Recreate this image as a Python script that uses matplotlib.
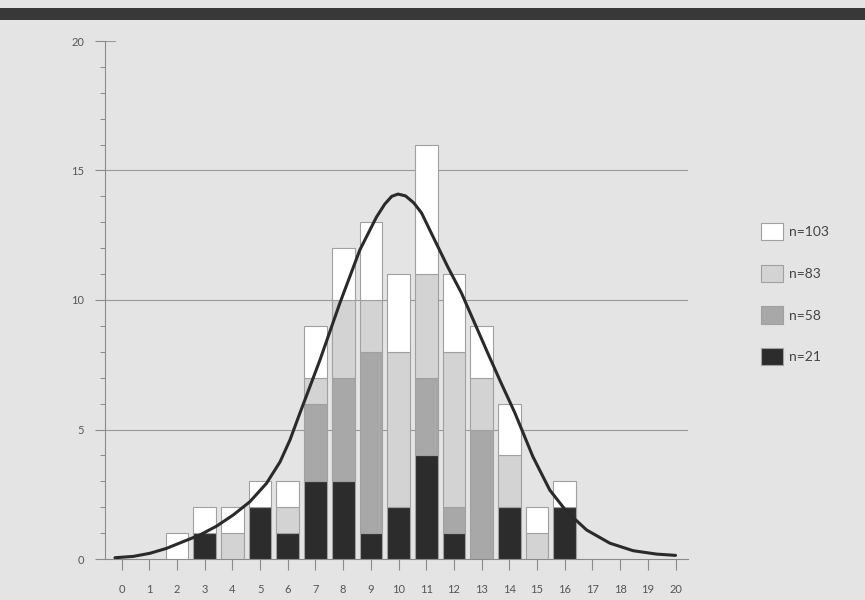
import matplotlib
matplotlib.use("Agg")
import matplotlib.pyplot as plt
from matplotlib.patches import Patch, Rectangle
import numpy as np

# -------------------------------------------------
# DATA
# -------------------------------------------------

classes = list(range(0, 21))

# segment heights of each stacked layer, bottom to top
seg_black = [0, 0, 0, 1, 0, 2, 1, 3, 3, 1, 2, 4, 1, 0, 2, 0, 2, 0, 0, 0, 0]
seg_dark = [0, 0, 0, 0, 0, 0, 0, 3, 4, 7, 0, 3, 1, 5, 0, 0, 0, 0, 0, 0, 0]
seg_light = [0, 0, 0, 0, 1, 0, 1, 1, 3, 2, 6, 4, 6, 2, 2, 1, 0, 0, 0, 0, 0]
seg_white = [0, 0, 1, 1, 1, 1, 1, 2, 2, 3, 3, 5, 3, 2, 2, 1, 1, 0, 0, 0, 0]

legend_labels = ["n=103", "n=83", "n=58", "n=21"]

# fitted curve
curve_x = [-0.24, 0.42, 1.02, 1.62, 2.22, 2.83, 3.43, 4.03, 4.63, 5.23, 5.72,
           6.08, 6.44, 7.16, 7.88, 8.60, 9.20, 9.50, 9.75, 9.98, 10.25, 10.55,
           10.83, 11.31, 11.78, 12.27, 12.75, 13.22, 13.70, 14.20, 14.85, 15.46,
           16.07, 16.79, 17.63, 18.47, 19.31, 20.0]
curve_y = [0.05, 0.10, 0.22, 0.41, 0.67, 0.93, 1.27, 1.70, 2.21, 2.92, 3.75,
           4.60, 5.64, 7.68, 9.88, 11.93, 13.20, 13.70, 14.00, 14.09, 14.02, 13.75,
           13.36, 12.30, 11.27, 10.27, 9.10, 7.95, 6.80, 5.64, 3.95, 2.66,
           1.83, 1.12, 0.61, 0.32, 0.19, 0.14]

# -------------------------------------------------
# STYLE
# -------------------------------------------------

bg = "#e4e4e4"
col_white = "#ffffff"
col_light = "#d3d3d3"
col_dark = "#a8a8a8"
col_black = "#2c2c2c"
edge = "#a0a0a0"

plt.rcParams["font.family"] = ["Lato", "DejaVu Sans"]

fig = plt.figure(figsize=(8.65, 6), dpi=100, facecolor=bg)
ax = fig.add_axes([105 / 865, 41 / 600, (688 - 105) / 865, (559 - 41) / 600])
ax.set_facecolor(bg)

# dark band at the top
fig.patches.append(Rectangle((0, 1 - 20 / 600), 1, 12 / 600, transform=fig.transFigure,
                             facecolor="#383838", edgecolor="none", zorder=0))

# -------------------------------------------------
# STACKED BARS
# -------------------------------------------------

x = np.array(classes)
b0 = np.zeros(len(x))
w = 0.82
layers = [(seg_black, col_black), (seg_dark, col_dark),
          (seg_light, col_light), (seg_white, col_white)]
for seg, c in layers:
    seg = np.array(seg, dtype=float)
    mask = seg > 0
    ax.bar(x[mask], seg[mask], bottom=b0[mask], width=w, color=c,
           edgecolor=edge, linewidth=0.8, zorder=3)
    b0 = b0 + seg

# curve
ax.plot(curve_x, curve_y, color="#2a2a2a", linewidth=2.2, zorder=4,
        solid_capstyle="round", solid_joinstyle="round")

# -------------------------------------------------
# AXES
# -------------------------------------------------

ax.set_xlim(-0.6, 20.45)
ax.set_ylim(0, 20)

for y in [5, 10, 15]:
    ax.axhline(y, color="#9a9a9a", linewidth=0.8, zorder=1)
ax.axhline(20, xmin=0, xmax=0.018, color="#9a9a9a", linewidth=0.8)

for s in ["top", "right"]:
    ax.spines[s].set_visible(False)
for s in ["left", "bottom"]:
    ax.spines[s].set_color("#8a8a8a")
    ax.spines[s].set_linewidth(0.8)

ax.set_xticks(classes)
ax.set_yticks([0, 5, 10, 15, 20])
ax.set_yticks(range(0, 21), minor=True)
ax.tick_params(axis="x", length=8, width=0.8, color="#8a8a8a", pad=10,
               labelsize=8, labelcolor="#555555")
ax.tick_params(axis="y", which="major", length=7, width=0.8, color="#8a8a8a",
               pad=8, labelsize=8, labelcolor="#555555")
ax.tick_params(axis="y", which="minor", length=3.5, width=0.7, color="#8a8a8a")

# -------------------------------------------------
# LEGEND
# -------------------------------------------------

handles = [Patch(facecolor=col_white, edgecolor=edge, linewidth=0.8),
           Patch(facecolor=col_light, edgecolor=edge, linewidth=0.8),
           Patch(facecolor=col_dark, edgecolor=edge, linewidth=0.8),
           Patch(facecolor=col_black, edgecolor=edge, linewidth=0.8)]
leg = fig.legend(handles, legend_labels, loc="upper left",
                 bbox_to_anchor=(761 / 865, 1 - 223 / 600), frameon=False,
                 fontsize=10, handlelength=1.55, handleheight=1.55,
                 handletextpad=0.5, labelspacing=1.75, borderpad=0,
                 borderaxespad=0)
for t in leg.get_texts():
    t.set_color("#444444")

fig.savefig("out.png", dpi=100, facecolor=bg)
